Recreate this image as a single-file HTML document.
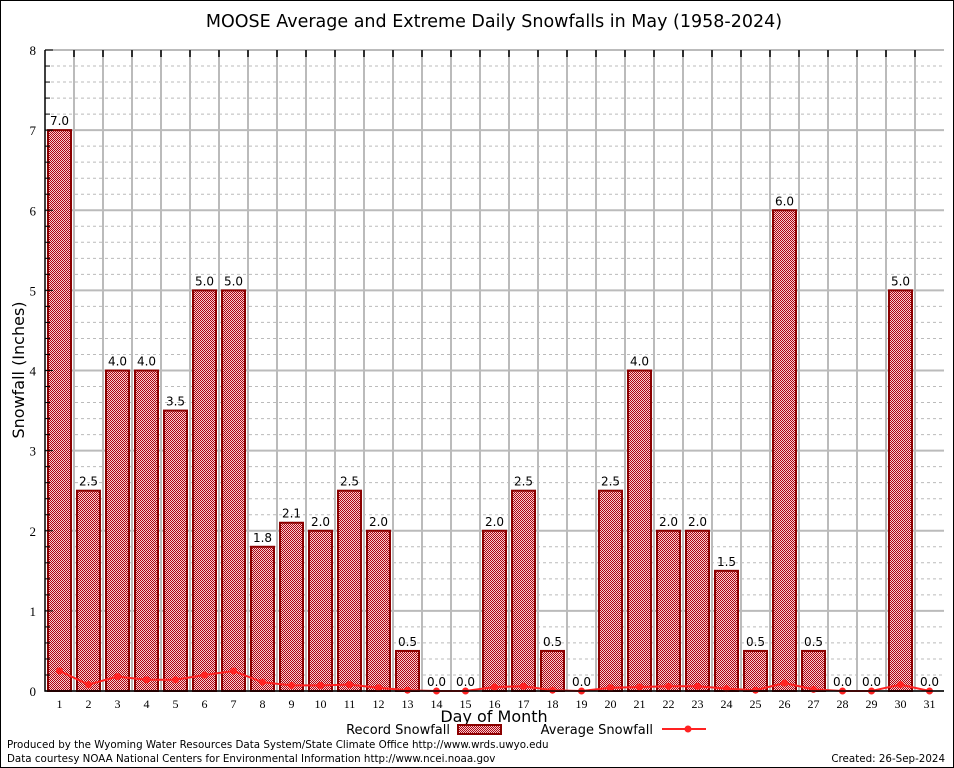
<!DOCTYPE html>
<html><head><meta charset="utf-8"><style>
html,body{margin:0;padding:0;background:#fff;}
svg{display:block;font-family:"DejaVu Sans","Liberation Sans",sans-serif;}
</style></head><body>
<svg id="chart" width="954" height="768" viewBox="0 0 954 768" xmlns="http://www.w3.org/2000/svg">
<defs>
<pattern id="hatch" width="2" height="2" patternUnits="userSpaceOnUse">
<rect width="2" height="2" fill="#f4d0d0"/><rect width="1" height="1" fill="#b00010"/><rect x="1" y="1" width="1" height="1" fill="#b00010"/>
</pattern>
</defs>
<rect x="0.5" y="0.5" width="953" height="767" fill="#fff" stroke="#000"/>
<text x="494" y="27" font-size="17.5" text-anchor="middle" fill="#000">MOOSE Average and Extreme Daily Snowfalls in May (1958-2024)</text>
<g id="grid"></g>
<g id="bars"></g>
<g id="avg"></g>
<g id="axes"></g>
<text transform="translate(24,370) rotate(-90)" font-size="16" text-anchor="middle">Snowfall (Inches)</text>
<text x="494" y="722" font-size="16" text-anchor="middle">Day of Month</text>
<g>
<text x="450" y="734" font-size="13" text-anchor="end">Record Snowfall</text>
<rect x="458" y="725" width="43" height="9" fill="url(#hatch)" stroke="#8b0000" stroke-width="2"/>
<text x="653" y="734" font-size="13" text-anchor="end">Average Snowfall</text>
<line x1="662" y1="729" x2="706" y2="729" stroke="#f22" stroke-width="2"/>
<circle cx="688" cy="729" r="3.5" fill="#f22"/>
</g>
<text x="7" y="748" font-size="10.3">Produced by the Wyoming Water Resources Data System/State Climate Office http://www.wrds.uwyo.edu</text>
<text x="7" y="762" font-size="10.3">Data courtesy NOAA National Centers for Environmental Information http://www.ncei.noaa.gov</text>
<text x="945" y="762" font-size="10.3" text-anchor="end">Created:  26-Sep-2024</text>
</svg>
<script>
const days = [1,2,3,4,5,6,7,8,9,10,11,12,13,14,15,16,17,18,19,20,21,22,23,24,25,26,27,28,29,30,31];
const recordValues = [7.0,2.5,4.0,4.0,3.5,5.0,5.0,1.8,2.1,2.0,2.5,2.0,0.5,0.0,0.0,2.0,2.5,0.5,0.0,2.5,4.0,2.0,2.0,1.5,0.5,6.0,0.5,0.0,0.0,5.0,0.0];
const averageValues = [0.25,0.08,0.18,0.14,0.14,0.2,0.25,0.11,0.07,0.07,0.08,0.04,0.01,0,0,0.05,0.06,0.01,0,0.04,0.05,0.06,0.06,0.03,0.01,0.1,0.02,0,0,0.08,0];
const yTicks = [0,1,2,3,4,5,6,7,8];

const NS="http://www.w3.org/2000/svg";
const L=45,R=944,T=50,B=691,YMAX=8;
const step=(R-L)/days.length;
const xC=i=>L+step*(i+0.5);
const y=v=>B-(v/YMAX)*(B-T);
function mk(tag,attrs,parent){const e=document.createElementNS(NS,tag);for(const k in attrs)e.setAttribute(k,attrs[k]);parent.appendChild(e);return e;}
const grid=document.getElementById('grid'),bars=document.getElementById('bars'),avg=document.getElementById('avg'),axes=document.getElementById('axes');

for(let v=0.2;v<YMAX;v+=0.2){
  if(Math.abs(v-Math.round(v))<1e-6)continue;
  const g=mk('line',{x1:L,x2:R,y1:y(v),y2:y(v),stroke:'#bbb','stroke-width':1,'stroke-dasharray':'3,3'},grid);
  
  
  const t=mk('line',{x1:L,x2:L+5,y1:y(v),y2:y(v),stroke:'#000'},axes);
  
  
}
yTicks.forEach(v=>{
  const g=mk('line',{x1:L,x2:R,y1:y(v),y2:y(v),stroke:'#bbb','stroke-width':2},grid);
  
  
  const t=mk('text',{x:L-9,y:y(v)+5,'font-size':13,'text-anchor':'end','font-family':'Liberation Serif, serif'},axes);
  t.textContent=v;
  
  
  const tk=mk('line',{x1:L,x2:L+8,y1:y(v),y2:y(v),stroke:'#000'},axes);
  
  
});
for(let i=1;i<days.length;i++){
  const x=L+step*i;
  const g=mk('line',{x1:x,x2:x,y1:T,y2:B,stroke:'#bbb','stroke-width':2},grid);
  
  
  const tk=mk('line',{x1:x,x2:x,y1:T,y2:T+7,stroke:'#000','stroke-width':1.5},axes);
  
  
}
days.forEach((d,i)=>{
  const v=recordValues[i];
  if(v>0){
    const b=mk('rect',{x:xC(i)-11.5,y:y(v),width:23,height:B-y(v),fill:'url(#hatch)',stroke:'#8b0000','stroke-width':2},bars);
    
    
  }
  const lbl=mk('text',{x:xC(i),y:y(v)-5,'font-size':12,'text-anchor':'middle'},bars);
  lbl.textContent=v.toFixed(1);
  
  
  const xl=mk('text',{x:xC(i),y:B+17,'font-size':12,'text-anchor':'middle','font-family':'Liberation Serif, serif'},axes);
  xl.textContent=d;
  
  
});
const pts=averageValues.map((v,i)=>xC(i)+','+y(v)).join(' ');
const pl=mk('polyline',{points:pts,fill:'none',stroke:'#f22','stroke-width':2},avg);


averageValues.forEach((v,i)=>{
  const c=mk('circle',{cx:xC(i),cy:y(v),r:3.5,fill:'#f22'},avg);
  
  
});
const ax=mk('path',{d:`M${L},${T} V${B} H${R}`,fill:'none',stroke:'#000','stroke-width':1.5},axes);


</script>
</body></html>
